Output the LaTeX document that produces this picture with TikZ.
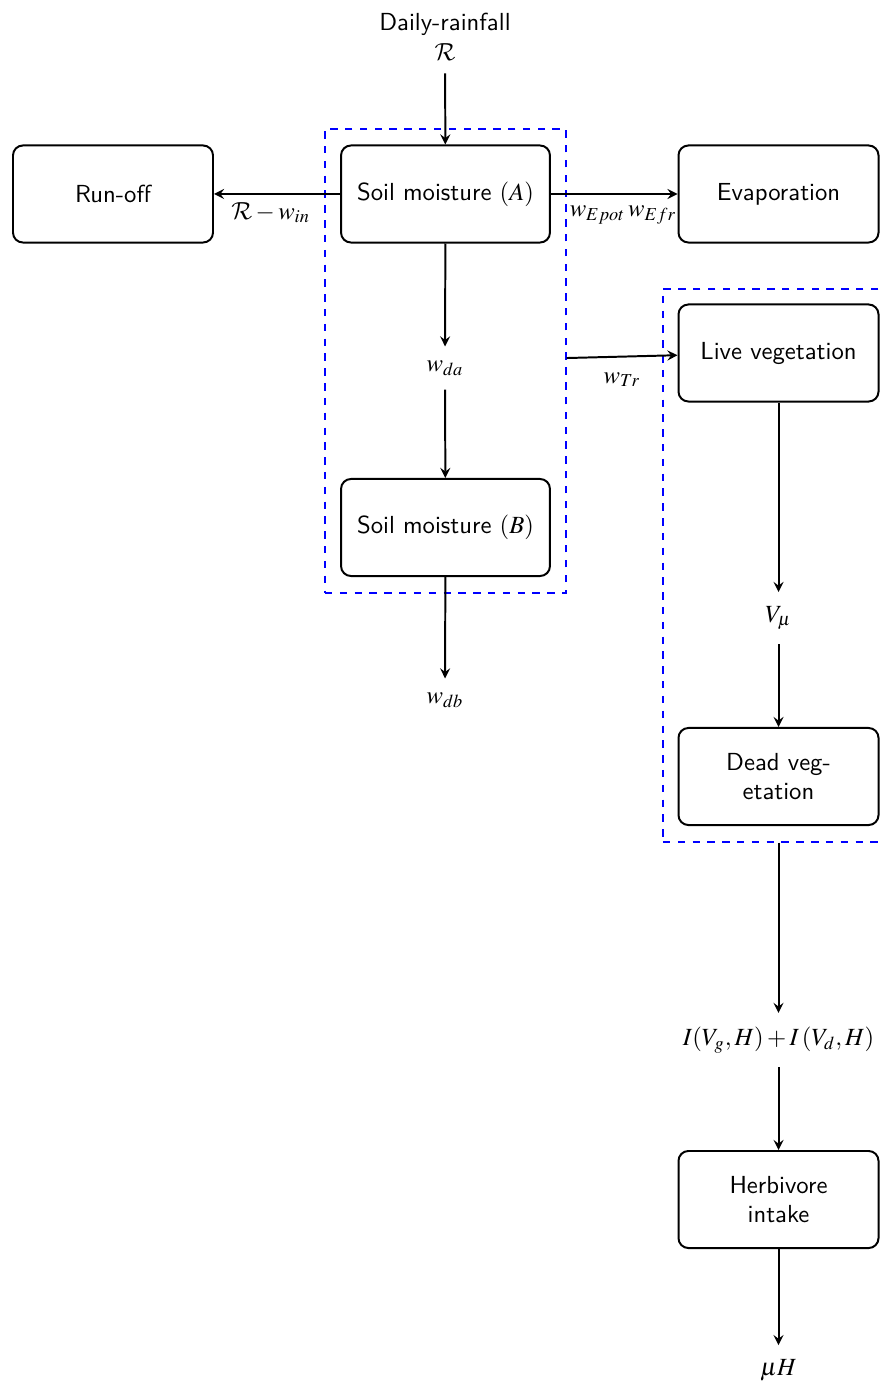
\documentclass[tikz,border=0pt]{standalone}
\usepackage{mathptmx}
\DeclareMathAlphabet{\mathcal}{OMS}{cmsy}{m}{n}
\usetikzlibrary{arrows}
\begin{document}
\begin{tikzpicture}[x=0.405pt,y=-0.405pt,
  box/.style={draw, thick, rounded corners=4pt, minimum width=81pt,
    minimum height=39.3pt, align=center, font=\sffamily},
  widebox/.style={box, minimum width=84.6pt},
  flow/.style={thick, -stealth},
  grpbox/.style={draw=blue, dashed, line width=0.45pt, inner sep=0pt},
  qty/.style={inner sep=5.5pt},
  lbl/.style={inner sep=3pt, anchor=north}]
\useasboundingbox (0,0) rectangle (885,1384);
\clip (0,0) rectangle (885,1384);

% water balance column
\node[align=center, font=\sffamily, inner ysep=5pt] (rain) at (445,37) {Daily-rainfall\\$\mathcal{R}$};
\node[widebox] (soilA) at (445.5,194) {Soil moisture $(A)$};
\node[box] (runoff) at (113,194) {Run-off};
\node[box] (evap) at (778.5,194) {Evaporation};
\node[qty] (wda) at (445,368) {$w_{da}$};
\node[widebox] (soilB) at (445.5,527.5) {Soil moisture $(B)$};
\node[qty] (wdb) at (445,700) {$w_{db}$};
\node[grpbox, minimum width=97.6pt, minimum height=187.9pt] (gsoil) at (445.5,361) {};

% vegetation and herbivore column
\node[box] (live) at (778.5,353) {Live vegetation};
\node[qty] (vmu) at (778.5,618) {$V_{\mu}$};
\node[box] (dead) at (778.5,776.5) {Dead veg-\\etation};
\node[grpbox, minimum width=93.6pt, minimum height=224pt] (gveg) at (778.5,565.5) {};
\node[qty] (intake) at (778.5,1040) {$I(V_g,H)+I\,(V_d,H)$};
\node[box] (herb) at (778.5,1199.5) {Herbivore\\intake};
\node[qty] (muh) at (778.5,1370) {$\mu H$};

% fluxes
\draw[flow] (rain) -- (soilA);
\draw[flow] (soilA) -- node[lbl, pos=0.55] {$\mathcal{R}-w_{in}$} (runoff);
\draw[flow] (soilA) -- node[lbl, pos=0.57, yshift=-1.5pt] {$w_{Epot}\,w_{Efr}$} (evap);
\draw[flow] (soilA) -- (wda);
\draw[flow] (wda) -- (soilB);
\draw[flow] (soilB) -- (wdb);
\draw[flow] ([yshift=1.2pt]gsoil.east) -- node[lbl, pos=0.5, yshift=-3pt] {$w_{Tr}$} ([yshift=-0.9pt]live.west);
\draw[flow] (live) -- (vmu);
\draw[flow] (vmu) -- (dead);
\draw[flow] (gveg.south) -- (intake);
\draw[flow] (intake) -- (herb);
\draw[flow] (herb) -- (muh);
\end{tikzpicture}
\end{document}
